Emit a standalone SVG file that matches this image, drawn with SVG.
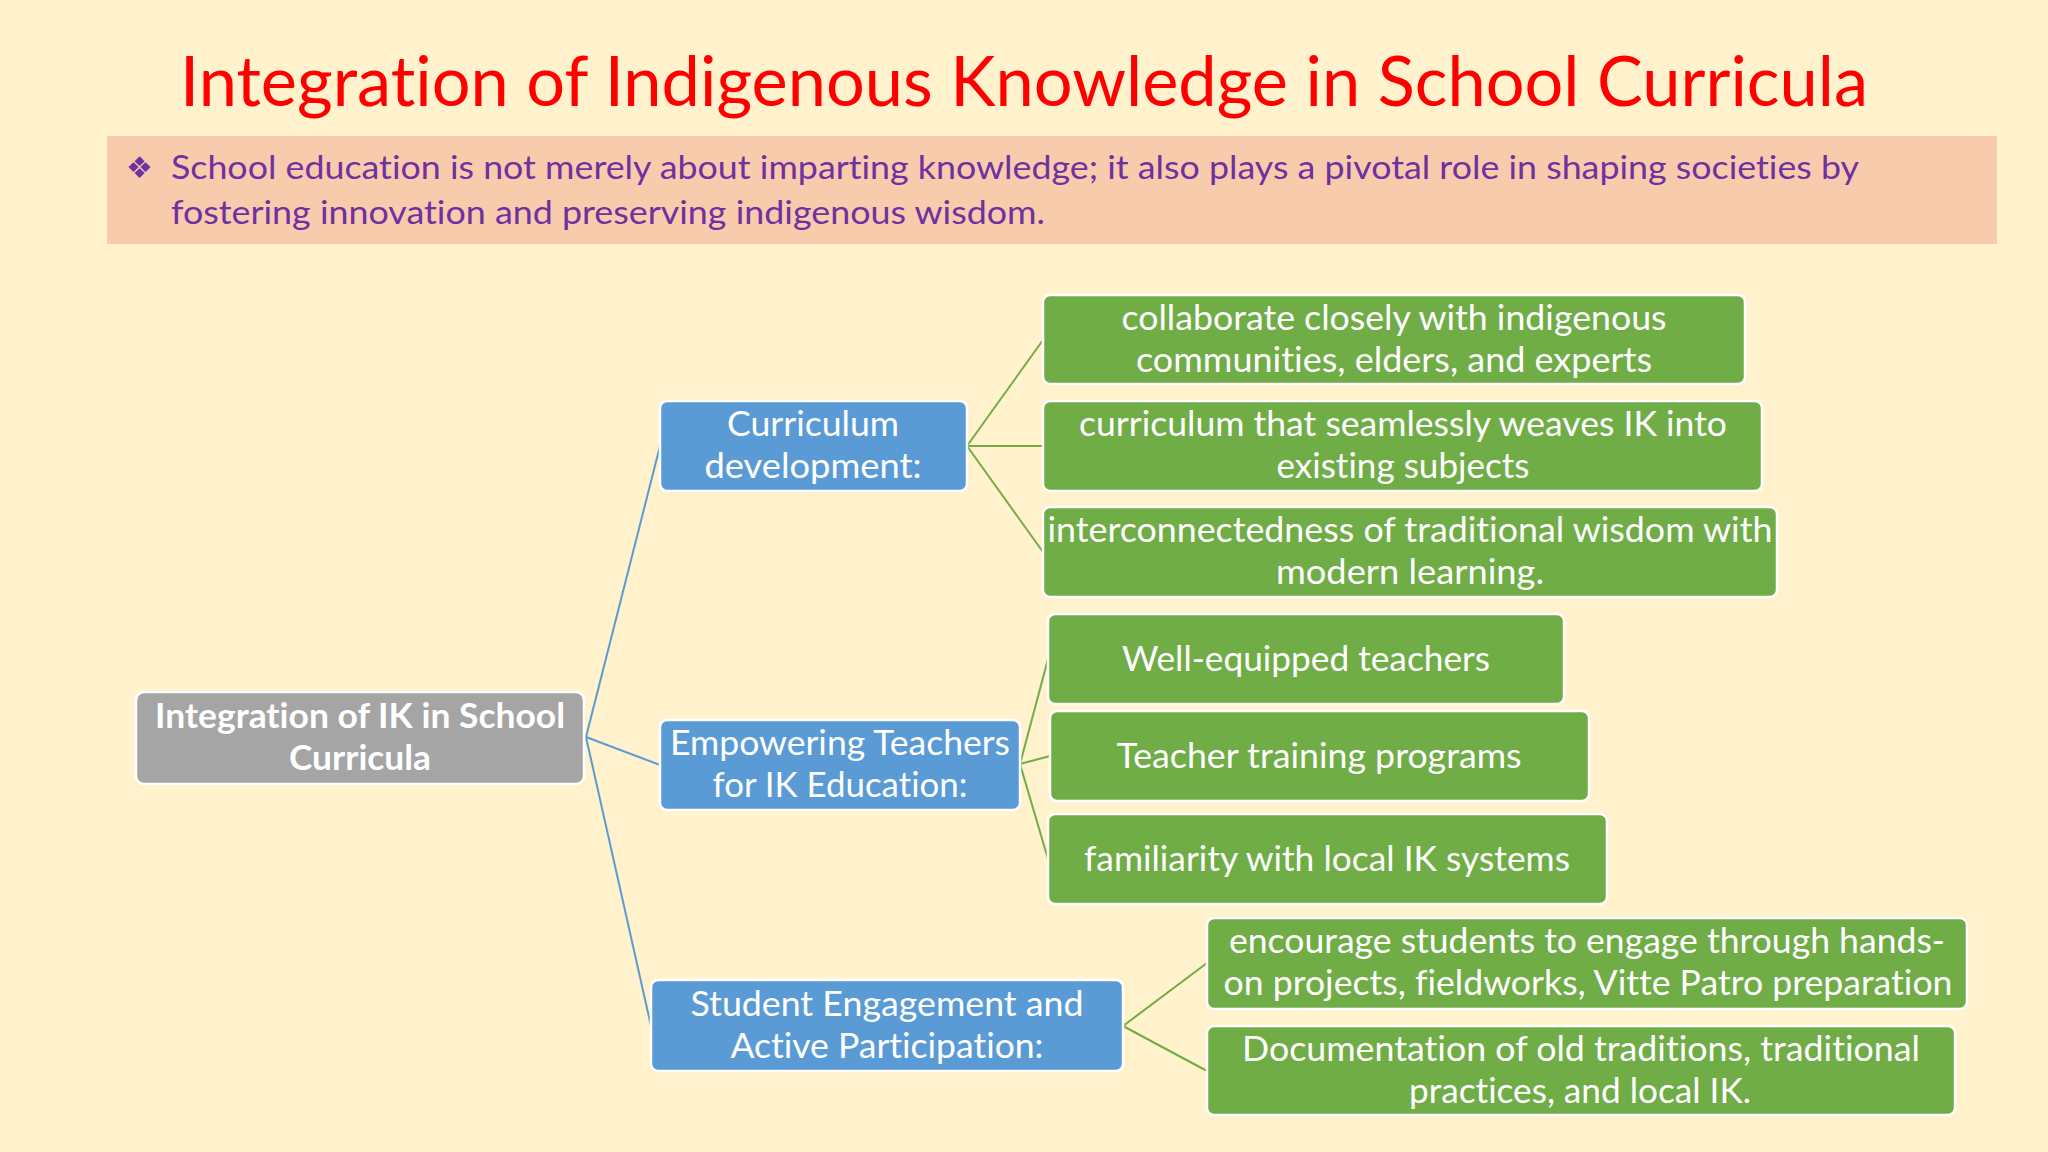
<svg xmlns="http://www.w3.org/2000/svg" width="2048" height="1152" viewBox="0 0 2048 1152">
<style>
text{font-variant-ligatures:none;font-feature-settings:"liga" 0,"clig" 0}
.t{font-family:Lato,"Open Sans","Liberation Sans",sans-serif;fill:#fff;font-size:34px;text-anchor:middle}
.b{font-weight:bold}
.box{stroke:#fff;stroke-width:2.5}
.gray{fill:#A5A5A5}
.blue{fill:#5B9BD5}
.green{fill:#70AD47}
.lb{stroke:#5B9BD5;stroke-width:2;fill:none}
.lg{stroke:#70AD47;stroke-width:2;fill:none}
</style>
<rect x="0" y="0" width="2048" height="1152" fill="#FFF2CC"/>
<text x="1024" y="106" font-family="Lato,'Open Sans','Liberation Sans',sans-serif" font-size="69" fill="#FF0000" text-anchor="middle" textLength="1688" lengthAdjust="spacingAndGlyphs">Integration of Indigenous Knowledge in School Curricula</text>
<rect x="107" y="136" width="1890" height="108" fill="#F8CBAD"/>
<text x="126" y="178" font-family="'DejaVu Sans',sans-serif" font-size="30" fill="#7030A0">❖</text>
<g font-family="Lato,'Open Sans','Liberation Sans',sans-serif" font-size="32" fill="#7030A0">
<text x="171" y="179" textLength="1688" lengthAdjust="spacingAndGlyphs">School education is not merely about imparting knowledge; it also plays a pivotal role in shaping societies by</text>
<text x="171" y="224" textLength="874" lengthAdjust="spacingAndGlyphs">fostering innovation and preserving indigenous wisdom.</text>
</g>
<g id="connectors">
<line class="lb" x1="586" y1="737" x2="660" y2="446"/>
<line class="lb" x1="586" y1="737" x2="660" y2="765"/>
<line class="lb" x1="586" y1="737" x2="651" y2="1026"/>
<line class="lg" x1="967" y1="446" x2="1043" y2="340"/>
<line class="lg" x1="967" y1="446" x2="1043" y2="446"/>
<line class="lg" x1="967" y1="446" x2="1043" y2="552"/>
<line class="lg" x1="1020" y1="764" x2="1048" y2="659"/>
<line class="lg" x1="1020" y1="764" x2="1050" y2="756"/>
<line class="lg" x1="1020" y1="764" x2="1048" y2="859"/>
<line class="lg" x1="1123" y1="1026" x2="1207" y2="963"/>
<line class="lg" x1="1123" y1="1026" x2="1207" y2="1071"/>
</g>
<g id="root">
<rect class="box gray" x="136" y="692" width="448" height="92" rx="8"/>
<text class="t b" x="360" y="728" textLength="410" lengthAdjust="spacingAndGlyphs">Integration of IK in School</text>
<text class="t b" x="360" y="770" textLength="142" lengthAdjust="spacingAndGlyphs">Curricula</text>
</g>
<g id="curriculum">
<rect class="box blue" x="660" y="401" width="307" height="90" rx="7"/>
<text class="t" x="813" y="436" textLength="172" lengthAdjust="spacingAndGlyphs">Curriculum</text>
<text class="t" x="813" y="478" textLength="217" lengthAdjust="spacingAndGlyphs">development:</text>
</g>
<g id="teachers">
<rect class="box blue" x="660" y="720" width="360" height="90" rx="7"/>
<text class="t" x="840" y="755" textLength="340" lengthAdjust="spacingAndGlyphs">Empowering Teachers</text>
<text class="t" x="840" y="797" textLength="255" lengthAdjust="spacingAndGlyphs">for IK Education:</text>
</g>
<g id="students">
<rect class="box blue" x="651" y="980" width="472" height="91" rx="7"/>
<text class="t" x="887" y="1016" textLength="393" lengthAdjust="spacingAndGlyphs">Student Engagement and</text>
<text class="t" x="887" y="1058" textLength="313" lengthAdjust="spacingAndGlyphs">Active Participation:</text>
</g>
<g id="g1">
<rect class="box green" x="1043" y="295" width="702" height="89" rx="7"/>
<text class="t" x="1394" y="330" textLength="545" lengthAdjust="spacingAndGlyphs">collaborate closely with indigenous</text>
<text class="t" x="1394" y="372" textLength="516" lengthAdjust="spacingAndGlyphs">communities, elders, and experts</text>
</g>
<g id="g2">
<rect class="box green" x="1043" y="401" width="719" height="90" rx="7"/>
<text class="t" x="1403" y="436" textLength="648" lengthAdjust="spacingAndGlyphs">curriculum that seamlessly weaves IK into</text>
<text class="t" x="1403" y="478" textLength="253" lengthAdjust="spacingAndGlyphs">existing subjects</text>
</g>
<g id="g3">
<rect class="box green" x="1043" y="507" width="734" height="90" rx="7"/>
<text class="t" x="1410" y="542" textLength="725" lengthAdjust="spacingAndGlyphs">interconnectedness of traditional wisdom with</text>
<text class="t" x="1410" y="584" textLength="268" lengthAdjust="spacingAndGlyphs">modern learning.</text>
</g>
<g id="g4">
<rect class="box green" x="1048" y="614" width="516" height="90" rx="7"/>
<text class="t" x="1306" y="671" textLength="368" lengthAdjust="spacingAndGlyphs">Well-equipped teachers</text>
</g>
<g id="g5">
<rect class="box green" x="1050" y="711" width="539" height="90" rx="7"/>
<text class="t" x="1319" y="768" textLength="405" lengthAdjust="spacingAndGlyphs">Teacher training programs</text>
</g>
<g id="g6">
<rect class="box green" x="1048" y="814" width="559" height="90" rx="7"/>
<text class="t" x="1327" y="871" textLength="486" lengthAdjust="spacingAndGlyphs">familiarity with local IK systems</text>
</g>
<g id="g7">
<rect class="box green" x="1207" y="918" width="760" height="91" rx="7"/>
<text class="t" x="1587" y="953" textLength="716" lengthAdjust="spacingAndGlyphs">encourage students to engage through hands-</text>
<text class="t" x="1588" y="995" textLength="729" lengthAdjust="spacingAndGlyphs">on projects, fieldworks, Vitte Patro preparation</text>
</g>
<g id="g8">
<rect class="box green" x="1207" y="1026" width="748" height="89" rx="7"/>
<text class="t" x="1581" y="1061" textLength="678" lengthAdjust="spacingAndGlyphs">Documentation of old traditions, traditional</text>
<text class="t" x="1580" y="1103" textLength="342" lengthAdjust="spacingAndGlyphs">practices, and local IK.</text>
</g>
</svg>
